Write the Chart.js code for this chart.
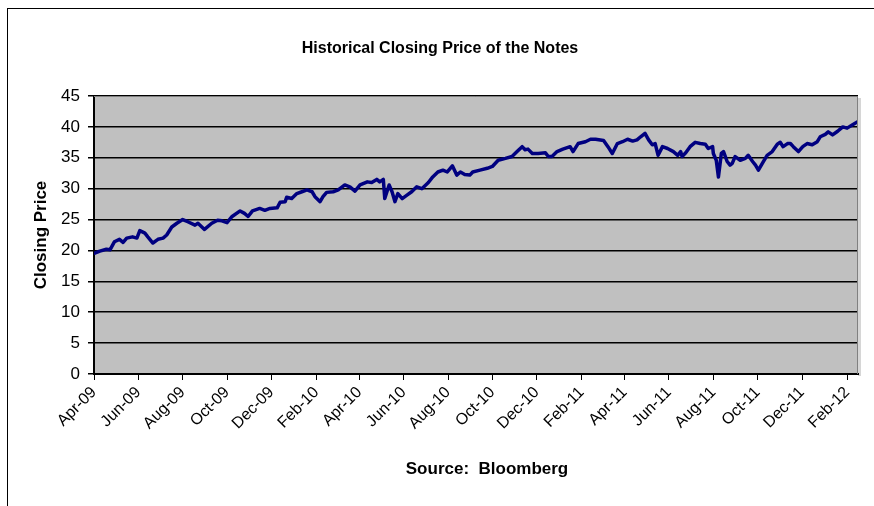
<!DOCTYPE html>
<html>
<head>
<meta charset="utf-8">
<script src="https://cdn.jsdelivr.net/npm/chart.js@4/dist/chart.umd.min.js"></script>
<style>
  html, body { margin: 0; padding: 0; background: #ffffff; }
  #wrap { position: relative; width: 874px; height: 506px; }
  canvas { display: block; }
</style>
</head>
<body>
<div id="wrap"><canvas id="c" width="874" height="506"></canvas></div>
<script>
// ---- Data ----
const chartTitle = 'Historical Closing Price of the Notes';
const yAxisTitle = 'Closing Price';
const sourceNote = 'Source:  Bloomberg';

const dates = [
  '2009-04-02','2009-04-09','2009-04-18','2009-04-23','2009-04-29','2009-05-06','2009-05-11','2009-05-16','2009-05-24','2009-05-30',
  '2009-06-03','2009-06-10','2009-06-14','2009-06-21','2009-06-28','2009-07-05','2009-07-10','2009-07-17','2009-07-24','2009-08-01',
  '2009-08-08','2009-08-18','2009-08-22','2009-08-31','2009-09-10','2009-09-18','2009-09-24','2009-10-01','2009-10-08','2009-10-19',
  '2009-10-25','2009-10-30','2009-11-05','2009-11-15','2009-11-22','2009-11-29','2009-12-09','2009-12-13','2009-12-20','2009-12-22',
  '2009-12-29','2010-01-05','2010-01-12','2010-01-19','2010-01-26','2010-01-30','2010-02-06','2010-02-10','2010-02-15','2010-02-24',
  '2010-03-03','2010-03-12','2010-03-19','2010-03-26','2010-04-02','2010-04-12','2010-04-18','2010-04-25','2010-04-29','2010-05-04',
  '2010-05-06','2010-05-12','2010-05-16','2010-05-20','2010-05-24','2010-05-30','2010-06-06','2010-06-12','2010-06-19','2010-06-26',
  '2010-07-05','2010-07-11','2010-07-18','2010-07-25','2010-07-31','2010-08-07','2010-08-13','2010-08-18','2010-08-24','2010-08-31',
  '2010-09-04','2010-09-14','2010-09-24','2010-10-01','2010-10-09','2010-10-19','2010-10-28','2010-11-04','2010-11-11','2010-11-15',
  '2010-11-19','2010-11-25','2010-12-03','2010-12-13','2010-12-17','2010-12-22','2010-12-29','2011-01-06','2011-01-16','2011-01-20',
  '2011-01-27','2011-02-06','2011-02-13','2011-02-20','2011-03-03','2011-03-09','2011-03-15','2011-03-22','2011-03-29','2011-04-05',
  '2011-04-12','2011-04-18','2011-04-23','2011-04-29','2011-05-04','2011-05-09','2011-05-13','2011-05-17','2011-05-23','2011-05-30',
  '2011-06-07','2011-06-13','2011-06-17','2011-06-19','2011-06-24','2011-06-30','2011-07-07','2011-07-14','2011-07-21','2011-07-25',
  '2011-07-31','2011-08-01','2011-08-05','2011-08-08','2011-08-12','2011-08-15','2011-08-20','2011-08-24','2011-08-27','2011-08-31',
  '2011-09-07','2011-09-14','2011-09-18','2011-09-24','2011-09-28','2011-10-02','2011-10-09','2011-10-14','2011-10-21','2011-10-28',
  '2011-11-01','2011-11-05','2011-11-11','2011-11-15','2011-11-19','2011-11-26','2011-12-02','2011-12-08','2011-12-15','2011-12-22',
  '2011-12-26','2012-01-02','2012-01-06','2012-01-12','2012-01-19','2012-01-26','2012-02-01','2012-02-08','2012-02-15'
];

const prices = [
  19.55,19.9,20.2,20.1,21.4,21.8,21.3,22.0,22.2,22.0,
  23.2,22.8,22.2,21.2,21.8,22.0,22.5,23.8,24.4,25.0,
  24.65,24.1,24.4,23.4,24.4,24.9,24.8,24.5,25.5,26.4,
  26.0,25.5,26.4,26.8,26.5,26.8,26.9,27.8,27.9,28.6,
  28.4,29.2,29.5,29.8,29.5,28.7,27.9,28.7,29.4,29.5,
  29.8,30.6,30.3,29.6,30.6,31.1,31.0,31.5,31.1,31.5,
  28.4,30.6,29.5,27.9,29.2,28.4,29.0,29.5,30.3,30.0,
  31.0,31.9,32.7,33.0,32.7,33.7,32.2,32.7,32.3,32.2,
  32.7,33.0,33.3,33.6,34.6,34.9,35.2,36.0,36.8,36.3,
  36.4,35.7,35.7,35.8,35.2,35.2,36.0,36.4,36.8,36.0,
  37.3,37.6,38.0,38.0,37.8,36.8,35.7,37.3,37.6,38.0,
  37.7,37.9,38.4,38.95,37.9,37.1,37.3,35.4,36.8,36.5,
  36.0,35.4,36.0,35.2,35.8,36.8,37.5,37.3,37.2,36.5,
  36.8,35.7,34.6,31.9,35.7,36.0,34.4,33.8,34.1,35.2,
  34.6,34.9,35.4,34.4,33.8,33.0,34.4,35.4,36.0,37.2,
  37.5,36.8,37.3,37.3,36.8,36.0,36.8,37.3,37.1,37.6,
  38.4,38.8,39.2,38.7,39.3,40.0,39.8,40.3,40.8
];

const tickDates = ['2009-04-01','2009-06-01','2009-08-01','2009-10-01','2009-12-01','2010-02-01','2010-04-01','2010-06-01',
  '2010-08-01','2010-10-01','2010-12-01','2011-02-01','2011-04-01','2011-06-01','2011-08-01','2011-10-01','2011-12-01','2012-02-01'];
const tickLabels = ['Apr-09','Jun-09','Aug-09','Oct-09','Dec-09','Feb-10','Apr-10','Jun-10',
  'Aug-10','Oct-10','Dec-10','Feb-11','Apr-11','Jun-11','Aug-11','Oct-11','Dec-11','Feb-12'];
const axisStart = '2009-04-01';
const axisEnd = '2012-02-16';
const yTicks = [0,5,10,15,20,25,30,35,40,45];

// ---- helpers ----
function dayOf(s) {
  const p = s.split('-').map(Number);
  const a = axisStart.split('-').map(Number);
  return Math.round((Date.UTC(p[0], p[1]-1, p[2]) - Date.UTC(a[0], a[1]-1, a[2])) / 86400000);
}
const points = dates.map((d, i) => ({ x: dayOf(d), y: prices[i] }));
const tickValues = tickDates.map(dayOf);

const FONT = '"Liberation Sans", Arial, sans-serif';

const decor = {
  id: 'decor',
  beforeDraw(chart) {
    const { ctx, chartArea: a } = chart;
    ctx.save();
    ctx.fillStyle = '#ffffff';
    ctx.fillRect(0, 0, chart.width, chart.height);
    // outer frame (runs off the right and bottom edges)
    ctx.strokeStyle = '#000000';
    ctx.lineWidth = 1;
    ctx.strokeRect(7.5, 8.5, 1000, 1000);
    // plot area
    ctx.fillStyle = '#c0c0c0';
    ctx.fillRect(a.left, a.top, a.right - a.left, a.bottom - a.top);
    // shadow on the right
    ctx.fillStyle = '#d6d6d6';
    ctx.fillRect(a.right, a.top + 2, 3, a.bottom - a.top);
    ctx.restore();
  },
  afterDraw(chart) {
    const { ctx, chartArea: a } = chart;
    ctx.save();
    ctx.strokeStyle = '#808080';
    ctx.lineWidth = 1;
    ctx.beginPath();
    ctx.moveTo(a.left, a.top + 0.5);
    ctx.lineTo(a.right - 0.5, a.top + 0.5);
    ctx.lineTo(a.right - 0.5, a.bottom);
    ctx.stroke();
    ctx.fillStyle = '#000000';
    ctx.textAlign = 'center';
    ctx.textBaseline = 'middle';
    ctx.font = 'bold 16px ' + FONT;
    ctx.fillText(chartTitle, 440, 49);
    ctx.font = 'bold 17px ' + FONT;
    ctx.fillText(sourceNote, 487, 469);
    ctx.translate(41, 235);
    ctx.rotate(-Math.PI / 2);
    ctx.fillText(yAxisTitle, 0, 0);
    ctx.restore();
  }
};

new Chart(document.getElementById('c'), {
  type: 'line',
  data: {
    datasets: [{
      data: points,
      borderColor: '#000080',
      borderWidth: 3.5,
      pointRadius: 0,
      tension: 0,
      borderJoinStyle: 'round',
      borderCapStyle: 'round',
      fill: false
    }]
  },
  options: {
    responsive: false,
    animation: false,
    events: [],
    layout: { padding: { left: 20, right: 16, top: 96, bottom: 52 } },
    plugins: { legend: { display: false }, title: { display: false }, tooltip: { enabled: false } },
    scales: {
      x: {
        type: 'linear',
        min: 0,
        max: dayOf(axisEnd),
        afterFit(s) { s.height = 80; },
        afterBuildTicks(s) { s.ticks = tickValues.map(v => ({ value: v })); },
        border: { display: true, color: '#000000', width: 2 },
        grid: { drawOnChartArea: false, drawTicks: true, tickLength: 6, color: '#000000', lineWidth: 1 },
        ticks: {
          autoSkip: false,
          minRotation: 45,
          maxRotation: 45,
          padding: 3,
          color: '#000000',
          font: { family: FONT, size: 16 },
          callback: (v) => { const i = tickValues.indexOf(v); return i >= 0 ? tickLabels[i] : ''; }
        }
      },
      y: {
        min: 0,
        max: 45,
        afterFit(s) { s.width = 74; },
        afterBuildTicks(s) { s.ticks = yTicks.map(v => ({ value: v })); },
        border: { display: true, color: '#000000', width: 2 },
        grid: { color: '#000000', lineWidth: 1.5, tickLength: 6 },
        ticks: { color: '#000000', padding: 8, font: { family: FONT, size: 17 } }
      }
    }
  },
  plugins: [decor]
});
</script>
</body>
</html>
